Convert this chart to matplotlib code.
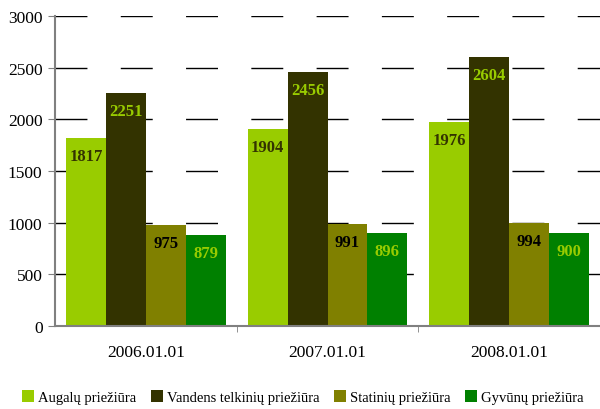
import numpy as np
import matplotlib.pyplot as plt

## chart data
dates = ['2006.01.01', '2007.01.01', '2008.01.01']
series_names = ['Augalų priežiūra', 'Vandens telkinių priežiūra',
                'Statinių priežiūra', 'Gyvūnų priežiūra']
augalai = [1817, 1904, 1976]
vandens = [2251, 2456, 2604]
statiniai = [975, 991, 994]
gyvunai = [879, 896, 900]

colors = ['#99cc00', '#333300', '#808000', '#008000']
label_colors = ['#333300', '#99cc00', '#000000', '#99cc00']

plt.rcParams['font.family'] = ['Liberation Serif', 'DejaVu Serif']

fig = plt.figure(figsize=(6, 4.1), dpi=100)
ax = fig.add_axes([0.0917, 0.2024, 0.9083, 0.7561])

x = np.arange(len(dates))
w = 0.22
offsets = [-1.5 * w, -0.5 * w, 0.5 * w, 1.5 * w]

## dashed grid behind bars
for yv in [500, 1000, 1500, 2000, 2500, 3000]:
    ax.axhline(yv, color='black', lw=1, dashes=(23, 24), zorder=0)

for vals, name, col, lcol, off in zip([augalai, vandens, statiniai, gyvunai],
                                      series_names, colors, label_colors, offsets):
    bars = ax.bar(x + off, vals, width=w, color=col, label=name, zorder=2)
    for b, v in zip(bars, vals):
        ax.annotate(str(v), (b.get_x() + b.get_width() / 2, v),
                    xytext=(0, -13), textcoords='offset points',
                    ha='center', va='center', fontsize=12,
                    fontweight='bold', color=lcol, zorder=3)

ax.set_xlim(-0.5, 2.5)
ax.set_ylim(0, 3000)
ax.set_yticks(range(0, 3001, 500))
ax.set_xticks(x)
ax.set_xticklabels(dates)
ax.set_xticks([0.5, 1.5], minor=True)
ax.tick_params(axis='x', which='major', length=0, pad=13, labelsize=12.5)
ax.tick_params(axis='x', which='minor', length=4, color='#808080')
ax.tick_params(axis='y', length=5, color='#808080', labelsize=12.5, pad=4)

for s in ['top', 'right']:
    ax.spines[s].set_visible(False)
ax.spines['left'].set_color('#808080')
ax.spines['bottom'].set_color('#808080')
ax.spines['left'].set_linewidth(1.5)
ax.spines['bottom'].set_linewidth(1.5)

fig.legend(loc='lower center', bbox_to_anchor=(0.505, -0.02), ncol=4, frameon=False,
           fontsize=10.5, handlelength=0.8, handleheight=0.8, handletextpad=0.3,
           columnspacing=1.0)

fig.savefig('out.png', dpi=100)
